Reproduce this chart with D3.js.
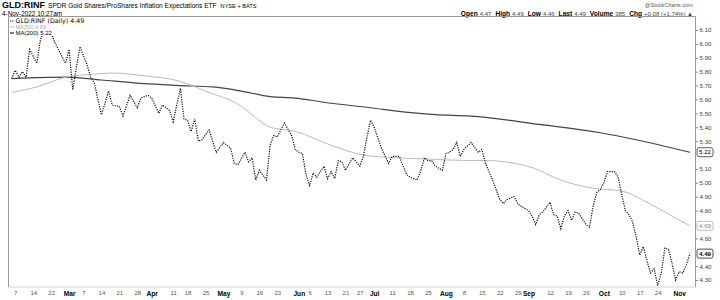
<!DOCTYPE html>
<html>
<head>
<meta charset="utf-8">
<script src="https://cdn.jsdelivr.net/npm/d3@7"></script>
<style>
  html, body { margin: 0; padding: 0; background: #fff; }
  svg { display: block; font-family: "Liberation Sans", Arial, sans-serif; }
</style>
</head>
<body>
<svg id="chart" width="720" height="300"></svg>
<script>
// Trading sessions: Feb 4 - Nov 4 2022, weekends and exchange holidays skipped
const firstDay = "2022-02-04";
const lastDay = "2022-11-04";
const holidays = ["2022-02-21", "2022-04-15", "2022-05-30", "2022-06-20", "2022-07-04", "2022-09-05"];

// GLD:RINF daily close (session number -> value)
const closeDays = [0, 1, 2, 3, 4, 5, 7, 8, 9, 10, 11, 12, 15, 16, 17, 19, 21, 22, 23, 25,
  27, 28, 30, 31, 33, 35, 36, 38, 39, 41, 42, 44, 45, 47, 48, 49, 50, 51, 52, 53,
  55, 57, 59, 61, 62, 63, 65, 66, 67, 68, 69, 71, 72, 73, 74, 76, 78, 79, 80, 81,
  82, 83, 84, 85, 87, 88, 89, 90, 91, 92, 93, 95, 96, 97, 98, 99, 100, 101, 103, 105,
  106, 108, 110, 111, 113, 114, 115, 116, 117, 118, 120, 121, 122, 123, 124, 125, 126, 128, 130, 131,
  132, 134, 136, 137, 138, 140, 141, 142, 144, 145, 146, 147, 148, 150, 151, 152, 153, 154, 155, 156,
  157, 158, 160, 161, 162, 163, 164, 165, 166, 168, 169, 170, 171, 172, 173, 174, 175, 176, 177, 178,
  179, 180, 181, 182, 183, 184, 185, 186, 187, 188, 189];
const closeValues = [5.75, 5.81, 5.76, 5.80, 5.76, 5.96, 5.86, 6.03, 6.10, 6.06, 6.08, 6.01, 5.86, 5.96, 5.67, 5.98, 5.85, 5.76, 5.72, 5.49,
  5.66, 5.56, 5.55, 5.48, 5.63, 5.54, 5.61, 5.63, 5.61, 5.50, 5.56, 5.52, 5.44, 5.68, 5.46, 5.45, 5.37, 5.46, 5.30, 5.31,
  5.38, 5.22, 5.29, 5.25, 5.14, 5.13, 5.22, 5.15, 5.18, 5.02, 5.09, 5.02, 5.27, 5.34, 5.33, 5.43, 5.34, 5.24, 5.22, 5.21,
  5.06, 4.98, 5.07, 5.04, 5.12, 5.03, 5.08, 5.03, 5.16, 5.15, 5.09, 5.18, 5.15, 5.12, 5.19, 5.33, 5.45, 5.40, 5.25, 5.14,
  5.19, 5.19, 5.06, 5.04, 5.02, 5.09, 5.18, 5.16, 5.16, 5.12, 5.09, 5.21, 5.22, 5.24, 5.29, 5.19, 5.24, 5.29, 5.22, 5.24,
  5.14, 5.02, 4.88, 4.85, 4.88, 4.90, 4.85, 4.83, 4.80, 4.76, 4.70, 4.77, 4.79, 4.86, 4.77, 4.76, 4.67, 4.76, 4.80, 4.73,
  4.79, 4.78, 4.70, 4.68, 4.83, 4.93, 4.95, 5.00, 5.08, 5.08, 5.04, 4.91, 4.80, 4.77, 4.72, 4.61, 4.48, 4.54, 4.44, 4.35,
  4.38, 4.26, 4.35, 4.53, 4.52, 4.42, 4.30, 4.36, 4.35, 4.41, 4.49];

// moving averages
const ma50Days = [0, 7, 15, 22, 28, 37, 47, 54, 64, 67, 72, 79, 89, 98, 107, 117, 128, 132, 142, 147, 151, 162, 170, 177, 184, 189];
const ma50Values = [5.65, 5.69, 5.76, 5.78, 5.79, 5.77, 5.73, 5.66, 5.55, 5.49, 5.40, 5.37, 5.27, 5.20, 5.18, 5.17, 5.16, 5.16, 5.13, 5.09, 5.04, 4.96, 4.94, 4.86, 4.76, 4.69];
const ma200Days = [0, 15, 25, 34, 47, 56, 64, 72, 79, 87, 100, 109, 118, 128, 147, 164, 174, 189];
const ma200Values = [5.75, 5.76, 5.74, 5.72, 5.70, 5.69, 5.66, 5.62, 5.61, 5.58, 5.54, 5.51, 5.49, 5.48, 5.42, 5.36, 5.31, 5.22];

const yTicks = [6.1, 6.0, 5.9, 5.8, 5.7, 5.6, 5.5, 5.4, 5.3, 5.1, 5.0, 4.9, 4.8, 4.6, 4.4, 4.3];
const xTickDates = ["02-07", "02-14", "02-22", "03-01", "03-07", "03-14", "03-21", "03-28", "04-01", "04-11",
  "04-18", "04-25", "05-02", "05-09", "05-16", "05-23", "06-01", "06-06", "06-13", "06-21",
  "06-27", "07-01", "07-11", "07-18", "07-25", "08-01", "08-08", "08-15", "08-22", "08-29",
  "09-01", "09-12", "09-19", "09-26", "10-03", "10-10", "10-17", "10-24", "11-01"];

const parse = d3.timeParse("%Y-%m-%d");
const fmt = d3.timeFormat("%Y-%m-%d");
const sessions = d3.timeDay.range(parse(firstDay), d3.timeDay.offset(parse(lastDay), 1))
  .filter(d => d.getDay() !== 0 && d.getDay() !== 6 && !holidays.includes(fmt(d)));

const svg = d3.select("#chart");
svg.append("rect").attr("width", 720).attr("height", 300).attr("fill", "#fff");

const plot = { left: 8.5, right: 695.5, top: 16.5, bottom: 287 };

const x = d3.scaleLinear().domain([0, sessions.length - 1]).range([11.7, 690]);
const y = d3.scaleLinear().domain([4.3, 6.1]).range([280, 30]);

// header
const head = svg.append("g").attr("fill", "#000");
const t1 = head.append("text").attr("x", 2).attr("y", 8).attr("font-size", 6.6);
t1.append("tspan").attr("font-weight", "bold").attr("font-size", 9).text("GLD:RINF");
t1.append("tspan").attr("dx", 3).text("SPDR Gold Shares/ProShares Inflation Expectations ETF");
t1.append("tspan").attr("dx", 4).attr("font-size", 5.6).text("NYSE + BATS");
head.append("text").attr("x", 2).attr("y", 15.5).attr("font-size", 6.4).text("4-Nov-2022 10:27am");

head.append("text").attr("x", 693).attr("y", 6.5).attr("text-anchor", "end")
  .attr("font-size", 5.6).attr("fill", "#555").text("@StockCharts.com");

const quote = [["Open", "4.47"], ["High", "4.49"], ["Low", "4.46"], ["Last", "4.49"], ["Volume", "385"], ["Chg", "+0.08 (+1.74%) \u25B2"]];
const qt = head.append("text").attr("x", 693).attr("y", 15.5).attr("text-anchor", "end").attr("font-size", 6.6);
quote.forEach((q, i) => {
  qt.append("tspan").attr("dx", i ? 4 : 0).attr("font-weight", "bold").text(q[0]);
  qt.append("tspan").attr("dx", 2).attr("font-size", 6).attr("fill", "#444").text(q[1]);
});

// frame
svg.append("path")
  .attr("d", `M${plot.left},${plot.bottom}V${plot.top}H${plot.right}V${plot.bottom}`)
  .attr("fill", "none").attr("stroke", "#999").attr("stroke-width", 1);
svg.append("line")
  .attr("x1", plot.left).attr("x2", plot.right).attr("y1", plot.bottom).attr("y2", plot.bottom)
  .attr("stroke", "#aaa").attr("stroke-dasharray", "1,1");

// y axis
const yAxis = svg.append("g").attr("transform", `translate(${plot.right},0)`)
  .call(d3.axisRight(y).tickValues(yTicks).tickSize(2.5).tickPadding(1.5).tickFormat(d3.format(".2f")));
yAxis.select(".domain").remove();
yAxis.selectAll("line").attr("stroke", "#888");
yAxis.selectAll("text").attr("font-size", 6.2).attr("fill", "#444").attr("font-family", "Liberation Sans, Arial");

// x axis
const monthStart = d => {
  const i = sessions.indexOf(d);
  return i === 0 || sessions[i - 1].getMonth() !== d.getMonth();
};
const tickIdx = xTickDates.map(s => sessions.findIndex(d => fmt(d) === "2022-" + s));
const xAxis = svg.append("g").attr("transform", `translate(0,${plot.bottom})`)
  .call(d3.axisBottom(x).tickValues(tickIdx).tickSize(0).tickPadding(4)
    .tickFormat(i => monthStart(sessions[i]) && i > 0 ? d3.timeFormat("%b")(sessions[i]) : sessions[i].getDate()));
xAxis.select(".domain").remove();
xAxis.selectAll("text")
  .attr("font-family", "Liberation Sans, Arial")
  .attr("font-size", i => monthStart(sessions[i]) ? 6.6 : 6)
  .attr("font-weight", i => monthStart(sessions[i]) ? "bold" : "normal")
  .attr("fill", i => monthStart(sessions[i]) ? "#000" : "#555");

// series
const line = d3.line().x(d => x(d[0])).y(d => y(d[1]));
const ma200 = ma200Days.map((d, i) => [d, ma200Values[i]]);
const ma50 = ma50Days.map((d, i) => [d, ma50Values[i]]);
const close = closeDays.map((d, i) => [d, closeValues[i]]);

svg.append("path").datum(ma200).attr("d", line.curve(d3.curveMonotoneX))
  .attr("fill", "none").attr("stroke", "#444").attr("stroke-width", 1.2);
svg.append("path").datum(ma50).attr("d", line.curve(d3.curveMonotoneX))
  .attr("fill", "none").attr("stroke", "#bbb").attr("stroke-width", 1);
svg.append("path").datum(close).attr("d", line.curve(d3.curveLinear))
  .attr("fill", "none").attr("stroke", "#111").attr("stroke-width", 1.2)
  .attr("stroke-dasharray", "1.2,1.2");

// legend
const lg = svg.append("g");
lg.append("rect").attr("x", 9).attr("y", 17).attr("width", 84).attr("height", 19).attr("fill", "#fff");
lg.append("line").attr("x1", 10).attr("x2", 14).attr("y1", 21).attr("y2", 21)
  .attr("stroke", "#111").attr("stroke-dasharray", "1,0.8");
lg.append("text").attr("x", 15.5).attr("y", 23).attr("font-size", 6.3)
  .attr("font-family", "DejaVu Sans").text(`GLD:RINF (Daily) ${closeValues[closeValues.length - 1].toFixed(2)}`);
lg.append("line").attr("x1", 10).attr("x2", 14).attr("y1", 27).attr("y2", 27).attr("stroke", "#bbb");
lg.append("text").attr("x", 15.5).attr("y", 29).attr("font-size", 5.5).attr("fill", "#aaa")
  .text(`MA(50) ${ma50Values[ma50Values.length - 1].toFixed(2)}`);
lg.append("line").attr("x1", 10).attr("x2", 14).attr("y1", 33).attr("y2", 33).attr("stroke", "#222").attr("stroke-width", 1.2);
lg.append("text").attr("x", 15.5).attr("y", 35).attr("font-size", 6).attr("fill", "#000")
  .text(`MA(200) ${ma200Values[ma200Values.length - 1].toFixed(2)}`);

// last-value tags on the price axis
const tags = [
  { v: ma200Values[ma200Values.length - 1], stroke: "#333", fill: "#000", bold: false },
  { v: ma50Values[ma50Values.length - 1], stroke: "#aaa", fill: "#888", bold: false },
  { v: closeValues[closeValues.length - 1], stroke: "#222", fill: "#000", bold: true }
];
const tg = svg.append("g").selectAll("g").data(tags).join("g")
  .attr("transform", d => `translate(${plot.right + 1.5},${y(d.v)})`);
tg.append("rect").attr("x", 0).attr("y", -4.5).attr("width", 16).attr("height", 9).attr("rx", 2)
  .attr("fill", "#fff").attr("stroke", d => d.stroke).attr("stroke-width", 0.8);
tg.append("text").attr("x", 8).attr("y", 2.2).attr("text-anchor", "middle").attr("font-size", 6.2)
  .attr("font-weight", d => d.bold ? "bold" : "normal").attr("fill", d => d.fill).text(d => d.v.toFixed(2));
</script>
</body>
</html>
